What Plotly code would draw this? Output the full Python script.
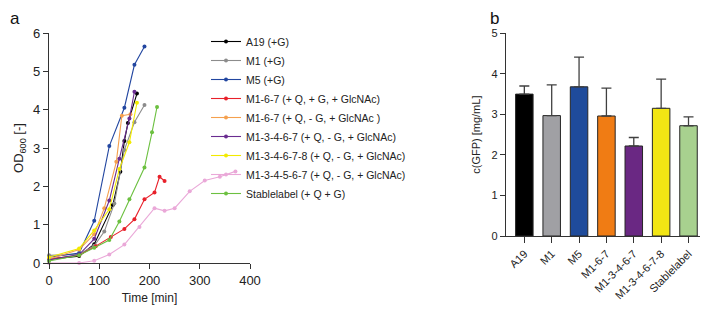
import plotly.graph_objects as go

# ---- panel a: growth curves ----
series_names = [
    "A19 (+G)", "M1 (+G)", "M5 (+G)", "M1-6-7 (+ Q, + G, + GlcNAc)",
    "M1-6-7 (+ Q, - G, + GlcNAc )", "M1-3-4-6-7 (+ Q, - G, + GlcNAc)",
    "M1-3-4-6-7-8 (+ Q, - G, + GlcNAc)", "M1-3-4-5-6-7 (+ Q, - G, + GlcNAc)",
    "Stablelabel (+ Q + G)",
]
series_colors = ["#000000", "#8c8c8c", "#2246a0", "#e8202a", "#f5a04e",
                 "#6a2c90", "#f2ea00", "#eaa8d8", "#6cc040"]

t_a19 = [0, 60, 90, 127, 142, 150, 157, 175]
od_a19 = [0.10, 0.18, 0.49, 1.51, 2.38, 3.18, 3.65, 4.42]
t_m1 = [0, 60, 90, 110, 130, 150, 170, 190]
od_m1 = [0.20, 0.23, 0.45, 0.82, 1.55, 2.95, 3.67, 4.12]
t_m5 = [0, 60, 90, 120, 150, 170, 190]
od_m5 = [0.15, 0.26, 1.10, 3.05, 4.05, 5.17, 5.65]
t_m167q = [0, 60, 93, 123, 150, 170, 190, 210, 220, 230]
od_m167q = [0.10, 0.20, 0.44, 0.68, 0.89, 1.14, 1.66, 1.84, 2.25, 2.14]
t_m167 = [0, 60, 90, 110, 134, 145, 162]
od_m167 = [0.10, 0.35, 0.75, 1.43, 2.64, 3.84, 3.88]
t_m13467 = [0, 60, 90, 120, 140, 160, 170]
od_m13467 = [0.08, 0.22, 0.63, 1.63, 2.72, 3.77, 4.47]
t_m134678 = [0, 60, 90, 120, 140, 160, 175]
od_m134678 = [0.15, 0.38, 0.85, 1.40, 2.45, 3.15, 4.18]
t_m134567 = [0, 60, 90, 120, 150, 180, 210, 230, 250, 280, 310, 340, 371]
od_m134567 = [0.00, 0.00, 0.06, 0.22, 0.48, 0.94, 1.43, 1.36, 1.43, 1.87, 2.15, 2.25, 2.39]
t_stable = [0, 60, 90, 120, 140, 160, 190, 205, 215]
od_stable = [0.05, 0.20, 0.40, 0.60, 1.08, 1.66, 2.49, 3.41, 4.07]

series_t = [t_a19, t_m1, t_m5, t_m167q, t_m167, t_m13467, t_m134678, t_m134567, t_stable]
series_od = [od_a19, od_m1, od_m5, od_m167q, od_m167, od_m13467, od_m134678, od_m134567, od_stable]

x_ticks_a = [0, 100, 200, 300, 400]
y_ticks_a = [0, 1, 2, 3, 4, 5, 6]

# ---- panel b: GFP yield ----
strains = ["A19", "M1", "M5", "M1-6-7", "M1-3-4-6-7", "M1-3-4-6-7-8", "Stablelabel"]
gfp_mean = [3.50, 2.97, 3.68, 2.96, 2.22, 3.15, 2.72]
gfp_sd = [0.20, 0.76, 0.73, 0.69, 0.21, 0.72, 0.22]
bar_colors = ["#000000", "#a0a0a4", "#1f4b9b", "#f07c14", "#6a2883", "#f2e614", "#a8d18f"]
y_ticks_b = [0, 1, 2, 3, 4, 5]

FONT = "Arial, Liberation Sans, sans-serif"
AXC = "#333333"

# page body has an 8px margin: figure is sized so it ends at the window edge
OFF = 8
W, H = 710 - OFF, 309 - OFF


def px(x):
    return (x - OFF) / W


def py(y):
    return 1 - (y - OFF) / H


fig = go.Figure()
for name, t, od, c in zip(series_names, series_t, series_od, series_colors):
    fig.add_trace(go.Scatter(
        x=t, y=od, name=name, mode="lines+markers",
        line=dict(color=c, width=1.1), marker=dict(color=c, size=4),
        cliponaxis=False, xaxis="x", yaxis="y",
    ))

fig.add_trace(go.Bar(
    x=strains, y=gfp_mean, marker=dict(color=bar_colors, line=dict(color="#262626", width=1)),
    width=0.64, showlegend=False, xaxis="x2", yaxis="y2",
    error_y=dict(type="data", array=gfp_sd, arrayminus=[0] * len(gfp_sd), symmetric=False,
                 color="#404040", thickness=1.3, width=5),
))

axis_common = dict(showline=True, linecolor=AXC, linewidth=1.3, ticks="outside",
                   tickcolor=AXC, tickwidth=1.3, showgrid=False, zeroline=False,
                   automargin=False)
font13 = dict(family=FONT, color="#222", size=13)
font11 = dict(family=FONT, color="#222", size=11)

fig.update_layout(
    width=W, height=H, margin=dict(l=0, r=0, t=0, b=0, autoexpand=False),
    plot_bgcolor="white", paper_bgcolor="white",
    font=dict(family=FONT, color="#222"),
    xaxis=dict(domain=[px(49), px(250)], range=[0, 400], tickvals=x_ticks_a, ticklen=5,
               tickfont=font13,
               title=dict(text="Time [min]", font=dict(size=12), standoff=6), anchor="y",
               **axis_common),
    yaxis=dict(domain=[py(263), py(33)], range=[0, 6], tickvals=y_ticks_a,
               ticklen=5, tickfont=font13,
               title=dict(text="OD<sub>600</sub> [-]", font=dict(size=13), standoff=6),
               anchor="x", **axis_common),
    xaxis2=dict(domain=[px(506), px(700)], range=[-0.67, 6.42], tickangle=-45, ticklen=6,
                tickfont=font11, anchor="y2", **axis_common),
    yaxis2=dict(domain=[py(236), py(33.3)], range=[0, 5], tickvals=y_ticks_b,
                ticklen=5, tickfont=font11, anchor="x2",
                title=dict(text="c(GFP) [mg/mL]", font=dict(size=11), standoff=8),
                **axis_common),
    legend=dict(x=px(206), y=py(27), xanchor="left", yanchor="top",
                font=dict(size=10.5, color="#222"),
                bgcolor="rgba(0,0,0,0)", tracegroupgap=0, itemwidth=30),
    showlegend=True,
    annotations=[
        dict(text="a", x=0.002, y=1, xref="paper", yref="paper", xanchor="left",
             yanchor="top", showarrow=False, font=dict(size=17, color="#111"),
             borderpad=0),
        dict(text="b", x=px(489), y=1, xref="paper", yref="paper", xanchor="left",
             yanchor="top", showarrow=False, font=dict(size=17, color="#111"),
             borderpad=0),
    ],
)

fig.write_html("out.html")
